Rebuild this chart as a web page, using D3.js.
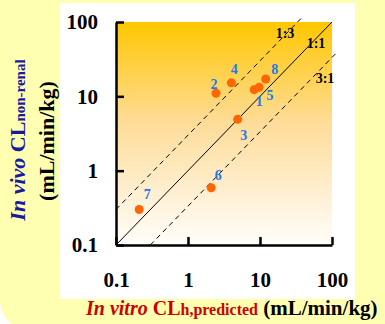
<!DOCTYPE html>
<html>
<head>
<meta charset="utf-8">
<script src="https://cdn.jsdelivr.net/npm/d3@7"></script>
<style>
  body { margin: 0; background: #fff; }
  svg { display: block; }
  text { font-family: "Liberation Serif", "Times New Roman", serif; font-weight: bold; }
</style>
</head>
<body>
<svg id="chart"></svg>
<script>
// compound numbers and clearances (mL/min/kg)
const compounds = ["1", "2", "3", "4", "5", "6", "7", "8"];
const inVitroCL = [8.3, 2.45, 4.9, 4.0, 9.7, 2.1, 0.21, 12.0];
const inVivoCL  = [12.3, 11.0, 4.9, 15.2, 13.2, 0.59, 0.30, 17.1];

const tickValues = [0.1, 1, 10, 100];
const tickLabels = ["0.1", "1", "10", "100"];

// reference lines: in vivo = ratio * in vitro
const refNames  = ["1:3", "1:1", "3:1"];
const refRatios = [3, 1, 1 / 3];

const W = 385, H = 324;
const margin = {top: 22, right: 53, bottom: 79, left: 116};

const svg = d3.select('#chart')
  .attr('width', W)
  .attr('height', H);

// pale yellow slide background with round corner bottom left
svg.append('rect')
  .attr('x', 0).attr('y', -40)
  .attr('width', W + 40).attr('height', H + 6 + 40)
  .attr('rx', 30)
  .attr('fill', '#ffffb2');

// white panel behind the plot
svg.append('rect')
  .attr('x', 60).attr('y', 3)
  .attr('width', 295).attr('height', 296)
  .attr('fill', '#fff');

const x = d3.scaleLog()
  .domain([0.1, 100])
  .range([margin.left, W - margin.right]);

const y = d3.scaleLog()
  .domain([0.1, 100])
  .range([H - margin.bottom, margin.top]);

const defs = svg.append('defs');
const grad = defs.append('linearGradient')
  .attr('id', 'bg')
  .attr('x1', 0).attr('y1', 0).attr('x2', 0).attr('y2', 1);
grad.append('stop').attr('offset', '0%').attr('stop-color', '#ffc700');
grad.append('stop').attr('offset', '45%').attr('stop-color', '#fedc98');
grad.append('stop').attr('offset', '100%').attr('stop-color', '#fffefb');

svg.append('rect')
  .attr('x', x(0.1)).attr('y', y(100))
  .attr('width', x(100) - x(0.1))
  .attr('height', y(0.1) - y(100))
  .attr('fill', 'url(#bg)');

// reference lines
const refExtent = [[0.1, 40], [0.1, 100], [0.3, 120]];
refRatios.forEach((r, i) => {
  const [a, b] = refExtent[i];
  svg.append('line')
    .attr('x1', x(a)).attr('y1', y(a * r))
    .attr('x2', x(b)).attr('y2', y(b * r))
    .attr('stroke', '#000')
    .attr('stroke-width', 1)
    .attr('stroke-dasharray', r === 1 ? null : '5,4');
});

const refLabelPos = [[285, 38], [316, 48], [325, 83]];
svg.selectAll('text.ref')
  .data(refNames)
  .enter()
  .append('text')
    .attr('class', 'ref')
    .attr('x', (d, i) => refLabelPos[i][0])
    .attr('y', (d, i) => refLabelPos[i][1])
    .attr('text-anchor', 'middle')
    .style('font-size', '14px')
    .text(d => d);

// axes
const fmt = d => tickLabels[tickValues.indexOf(d)];

const xAxis = d3.axisBottom(x)
  .tickValues(tickValues)
  .tickFormat(fmt)
  .tickSizeInner(-8)
  .tickSizeOuter(0)
  .tickPadding(27);

const yAxis = d3.axisLeft(y)
  .tickValues(tickValues)
  .tickFormat(fmt)
  .tickSizeInner(-8)
  .tickSizeOuter(0)
  .tickPadding(18);

const gx = svg.append('g')
  .attr('transform', `translate(0,${H - margin.bottom})`)
  .call(xAxis);

const gy = svg.append('g')
  .attr('transform', `translate(${margin.left},0)`)
  .call(yAxis);

[gx, gy].forEach(g => {
  g.select('.domain').attr('stroke', '#000').attr('stroke-width', 2.5);
  g.selectAll('.tick line').attr('stroke', '#000').attr('stroke-width', 2.5);
  g.selectAll('.tick text')
    .attr('fill', '#000')
    .style('font-family', '"Liberation Serif", serif')
    .style('font-weight', 'bold')
    .style('font-size', '21px');
});

// points
const pts = compounds.map((c, i) => ({name: c, vitro: inVitroCL[i], vivo: inVivoCL[i]}));
const labelOffset = {
  "1": [5, 12], "2": [-2, -9], "3": [6, 16], "4": [3, -13],
  "5": [11, 8], "6": [7, -12], "7": [8, -15], "8": [9, -10]
};

svg.selectAll('circle.pt')
  .data(pts)
  .enter()
  .append('circle')
    .attr('class', 'pt')
    .attr('cx', d => x(d.vitro))
    .attr('cy', d => y(d.vivo))
    .attr('r', 4.5)
    .attr('fill', '#ff6600');

svg.selectAll('text.pt')
  .data(pts)
  .enter()
  .append('text')
    .attr('class', 'pt')
    .attr('x', d => x(d.vitro) + labelOffset[d.name][0])
    .attr('y', d => y(d.vivo) + labelOffset[d.name][1] + 4.5)
    .attr('text-anchor', 'middle')
    .attr('fill', '#1e7ae6')
    .style('font-size', '14px')
    .text(d => d.name);

// x title
const xt = svg.append('text')
  .attr('x', 86)
  .attr('y', 315)
  .style('font-size', '20px');
xt.append('tspan').attr('fill', '#cc0000').style('font-style', 'italic').text('In vitro ');
xt.append('tspan').attr('fill', '#cc0000').text('CL');
xt.append('tspan').attr('fill', '#cc0000').style('font-size', '16px').text('h,predicted');
xt.append('tspan').attr('fill', '#000').style('font-size', '21px').text(' (mL/min/kg)');

// y title
const yt = svg.append('text')
  .attr('transform', 'translate(25,140) rotate(-90)')
  .attr('text-anchor', 'middle')
  .style('font-size', '22px');
yt.append('tspan').attr('fill', '#1a1a9c').style('font-style', 'italic').text('In vivo ');
yt.append('tspan').attr('fill', '#1a1a9c').text('CL');
yt.append('tspan').attr('fill', '#1a1a9c').style('font-size', '15px').text('non-renal');

svg.append('text')
  .attr('transform', 'translate(54,141) rotate(-90)')
  .attr('text-anchor', 'middle')
  .attr('fill', '#000')
  .style('font-size', '22px')
  .text('(mL/min/kg)');
</script>
</body>
</html>
